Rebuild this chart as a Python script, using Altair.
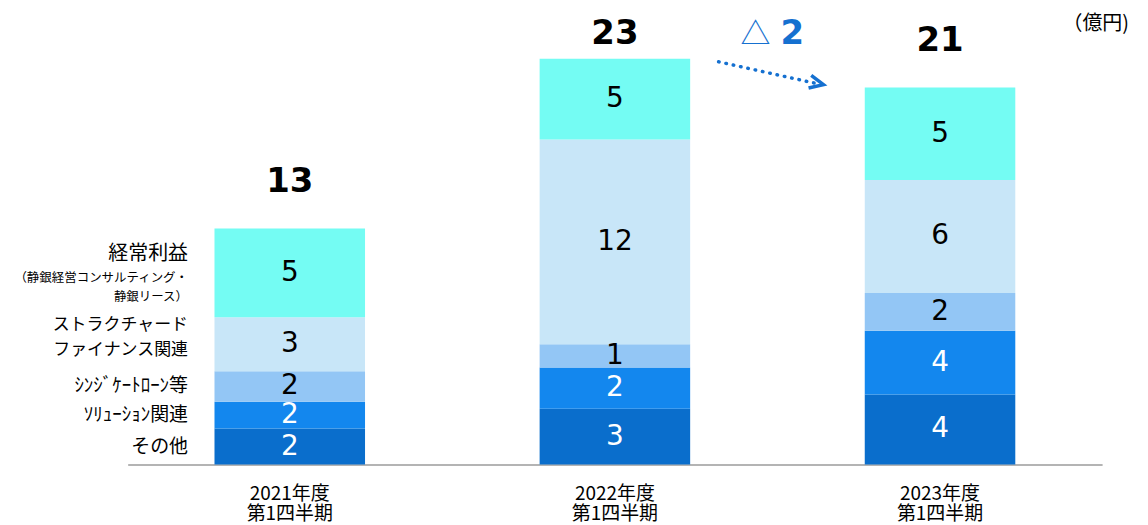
import altair as alt
import pandas as pd

# ---- data ----
periods = ["2021年度\n第1四半期", "2022年度\n第1四半期", "2023年度\n第1四半期"]
segments = ["その他", "ソリューション関連", "シンジケートローン等",
            "ストラクチャードファイナンス関連", "経常利益"]
seg_colors = ["#0a6ecc", "#1387ee", "#93c6f5", "#c8e6f8", "#74fcf3"]
seg_text_colors = ["white", "white", "black", "black", "black"]

other_vals = [2.0, 3.1, 3.9]
solution_vals = [1.5, 2.3, 3.55]
syndicate_vals = [1.7, 1.3, 2.1]
structured_vals = [3.0, 11.4, 6.3]
keijo_vals = [4.95, 4.5, 5.15]

other_lbl = [2, 3, 4]
solution_lbl = [2, 2, 4]
syndicate_lbl = [2, 1, 2]
structured_lbl = [3, 12, 6]
keijo_lbl = [5, 5, 5]

total_lbl = [13, 23, 21]

# ---- build tables ----
series_vals = [other_vals, solution_vals, syndicate_vals, structured_vals, keijo_vals]
series_lbl = [other_lbl, solution_lbl, syndicate_lbl, structured_lbl, keijo_lbl]

rows = []
for i, p in enumerate(periods):
    base = 0.0
    for j, s in enumerate(segments):
        v = series_vals[j][i]
        rows.append(dict(period=p, segment=s, order=j, value=v,
                         y0=base, y1=base + v, mid=base + v / 2,
                         label=str(series_lbl[j][i]), tcolor=seg_text_colors[j]))
        base += v
df = pd.DataFrame(rows)

tot = df.groupby("period", sort=False)["value"].sum().reset_index(name="total")
tot["label"] = [str(t) for t in total_lbl]

first = df[df["period"] == periods[0]]

ann = pd.DataFrame([dict(p_from=periods[1], p_to=periods[2],
                         y_from=tot["total"].iloc[1], y_to=tot["total"].iloc[2],
                         diff=str(total_lbl[1] - total_lbl[2]))])

JP = "Noto Sans CJK JP"
NUM = "DejaVu Sans"
BLUE = "#1570d0"

x_scale = alt.Scale(domain=periods, paddingInner=0.537, paddingOuter=0.267)
y_scale = alt.Scale(domain=[0, 25.28])


def X(field="period"):
    return alt.X(f"{field}:N", sort=periods, scale=x_scale,
                 axis=alt.Axis(title=None, labelAngle=0, ticks=False, grid=False,
                               labelExpr="split(datum.label, '\\n')",
                               labelFont=JP, labelFontSize=19, labelLineHeight=20,
                               labelColor="black", labelPadding=20,
                               domainColor="#b4b4b4", domainWidth=2))


bars = alt.Chart(df).mark_bar().encode(
    x=X(),
    y=alt.Y("y0:Q", scale=y_scale, axis=None),
    y2="y1:Q",
    color=alt.Color("segment:N", scale=alt.Scale(domain=segments, range=seg_colors), legend=None),
    order="order:Q",
)

seg_text = alt.Chart(df).mark_text(font=NUM, fontSize=28, baseline="middle").encode(
    x=X(), y=alt.Y("mid:Q", scale=y_scale),
    text="label:N", color=alt.Color("tcolor:N", scale=None),
)

totals = alt.Chart(tot).transform_calculate(
    ty="min(datum.total + 2.6, 24.0)"
).mark_text(font=NUM, fontSize=34, fontWeight="bold", baseline="middle", color="black").encode(
    x=X(), y=alt.Y("ty:Q", scale=y_scale), text="label:N",
)


def left_label(seg, text, size, dy=0):
    kw = dict(font=JP, fontSize=size, align="right", baseline="middle",
              dx=-102, dy=dy, color="black")
    d = first[first["segment"] == seg].copy()
    d["txt"] = [text]
    return alt.Chart(d).mark_text(**kw).encode(
        x=X(), y=alt.Y("mid:Q", scale=y_scale), text="txt:N")


lbl_keijo = left_label(segments[4], "経常利益", 20, dy=-19)
lbl_keijo2 = left_label(segments[4], "（静銀経営コンサルティング・", 12.5, dy=5)
lbl_keijo3 = left_label(segments[4], "静銀リース）", 12.5, dy=24)
lbl_struct1 = left_label(segments[3], "ストラクチャード", 17, dy=-19)
lbl_struct2 = left_label(segments[3], "ファイナンス関連", 17, dy=6)
lbl_synd = left_label(segments[2], "ｼﾝｼﾞｹｰﾄﾛｰﾝ等", 19)
lbl_sol = left_label(segments[1], "ｿﾘｭｰｼｮﾝ関連", 19)
lbl_other = left_label(segments[0], "その他", 19)

arrow = alt.Chart(ann).mark_rule(
    color=BLUE, strokeWidth=3.5, strokeDash=[0.5, 7], strokeCap="round",
    xOffset=104, x2Offset=-124, yOffset=3, y2Offset=-4,
).encode(
    x=X("p_from"), x2="p_to:N",
    y=alt.Y("y_from:Q", scale=y_scale), y2="y_to:Q",
)

arrow_head = alt.Chart(ann).mark_point(
    shape="M-1,-0.75 L0.6,0 L-1,0.75", filled=False, strokeWidth=3.5,
    color=BLUE, size=300, angle=12, xOffset=-122, yOffset=-4, opacity=1,
).encode(x=X("p_to"), y=alt.Y("y_to:Q", scale=y_scale))

tri = alt.Chart(ann).transform_calculate(t="'△'").mark_text(
    font=JP, fontSize=30, color=BLUE, baseline="middle", dx=141, dy=-24,
).encode(x=X("p_from"), y=alt.Y("y_from:Q", scale=y_scale), text="t:N")

diff_txt = alt.Chart(ann).mark_text(
    font=NUM, fontSize=34, fontWeight="bold", color=BLUE, baseline="middle", dx=178, dy=-25,
).encode(x=X("p_from"), y=alt.Y("y_from:Q", scale=y_scale), text="diff:N")

unit = alt.Chart(pd.DataFrame({"t": ["（億円)"]})).mark_text(
    font=JP, fontSize=20, align="right", baseline="middle", color="black",
).encode(x=alt.value(1004), y=alt.value(13), text="t:N")

chart = alt.layer(
    bars, seg_text, totals,
    lbl_keijo, lbl_keijo2, lbl_keijo3, lbl_struct1, lbl_struct2, lbl_synd, lbl_sol, lbl_other,
    arrow, arrow_head, tri, diff_txt, unit,
).properties(
    width=977, height=455,
    autosize=alt.AutoSizeParams(type="none"),
    padding={"left": 120, "top": 2, "right": 38, "bottom": 62},
).configure(background="white").configure_view(stroke="transparent", strokeWidth=0)

chart.save("out.html", embed_options={"renderer": "svg", "actions": False})
